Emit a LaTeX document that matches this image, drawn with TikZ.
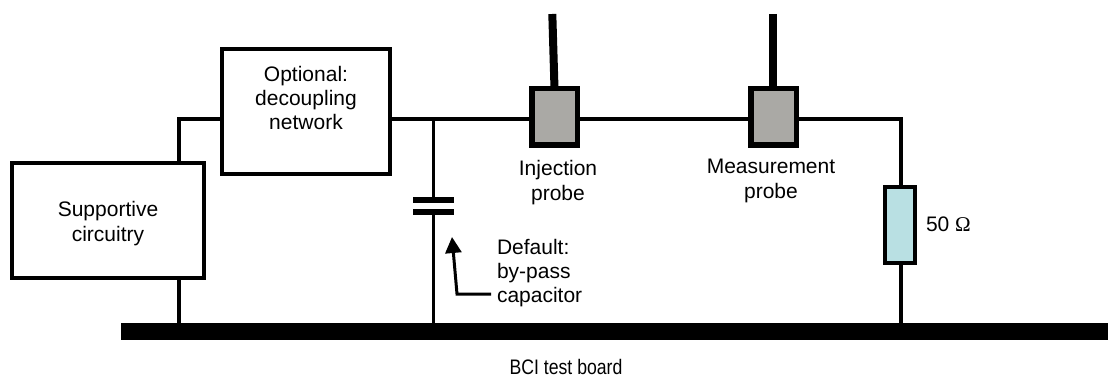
\documentclass[tikz,border=0pt]{standalone}
\usepackage{fontspec}
\setmainfont{Liberation Sans}
\newfontfamily\omegafont{Liberation Serif}
\definecolor{probegray}{HTML}{AAA9A5}
\definecolor{resblue}{HTML}{B9E0E3}
\usetikzlibrary{arrows.meta}
\tikzset{
  lab/.style={inner sep=0pt,outer sep=0pt,align=center,font=\fontsize{21}{24.3}\selectfont},
  labl/.style={lab,align=left},
  boxed/.style={draw=black,line width=4pt,inner sep=0pt,outer sep=0pt,fill=white},
  probe/.style={draw=black,line width=5.5pt,fill=probegray,inner sep=0pt,outer sep=0pt,minimum width=45.5pt,minimum height=56.5pt},
  resistor/.style={draw=black,line width=4pt,fill=resblue,inner sep=0pt,outer sep=0pt,minimum width=30pt,minimum height=76pt},
  wire/.style={draw=black,line width=4pt},
  thinwire/.style={draw=black,line width=3pt},
  lead/.style={draw=black,line width=8pt},
  plate/.style={fill=black,inner sep=0pt,outer sep=0pt,minimum width=41pt,minimum height=5.8pt},
}
\begin{document}
\begin{tikzpicture}[x=1pt,y=-1pt]
\useasboundingbox (0,0) rectangle (1108,377);
\node[fill=black,inner sep=0pt,outer sep=0pt,minimum width=987pt,minimum height=17pt] (bus) at (614.5,331.5) {};
\node[boxed,minimum width=192pt,minimum height=115pt] (sup) at (108,220.5) {};
\node[lab] (supt) at (108,223.5) {Supportive\\circuitry};
\node[boxed,minimum width=168pt,minimum height=125pt] (dec) at (306,111.5) {};
\node[lab] (dect) at (306,98) {Optional:\\decoupling\\network};
\node[probe] (inj) at (554.5,117) {};
\node[probe] (mea) at (773.5,117) {};
\node[resistor] (res) at (900,225) {};
\node[plate] (p1) at (433,200.2) {};
\node[plate] (p2) at (433,212) {};
\coordinate (t1) at (433.7,117.5);
\coordinate (j1) at (179,119.3);
\coordinate (c1) at (901,119.3);
\coordinate (l1) at (552.3,14);
\coordinate (l2) at (773,14);
\coordinate (a0) at (491,294);
\coordinate (a1) at (457,294);
\coordinate (a2) at (452,237);
% wires
\draw[wire] (dec.west |- j1) -- (j1) -- (j1 |- sup.north);
\draw[wire] (sup.south -| j1) -- (j1 |- bus.north);
\draw[wire] (dec.east |- j1) -- (inj.west |- j1);
\draw[wire] (inj.east |- j1) -- (mea.west |- j1);
\draw[wire] (mea.east |- j1) -- (c1) -- (c1 |- res.north);
\draw[wire] (c1 |- res.south) -- (c1 |- bus.north);
\draw[thinwire] (t1) -- (t1 |- p1.north);
\draw[thinwire] (p2.south) -- (p2.south |- bus.north);
\draw[lead] (l1) -- (inj.north);
\draw[lead] (l2) -- (l2 |- mea.north);
\draw[draw=black,line width=3pt,-{Triangle[length=16pt,width=16pt]}] (a0) -- (a1) -- (a2);
% labels
\node[lab] (injt) at (558,182.5) {Injection\\probe};
\node[lab] (meat) at (771,181) {Measurement\\probe};
\node[labl,anchor=west] (deft) at (497,273) {Default:\\by-pass\\capacitor};
\node[lab,anchor=base west] (ohm) at (926,231) {50 {\omegafont Ω}};
\node[lab,anchor=base,xscale=0.84] (bci) at (566,374) {BCI test board};
\end{tikzpicture}
\end{document}
